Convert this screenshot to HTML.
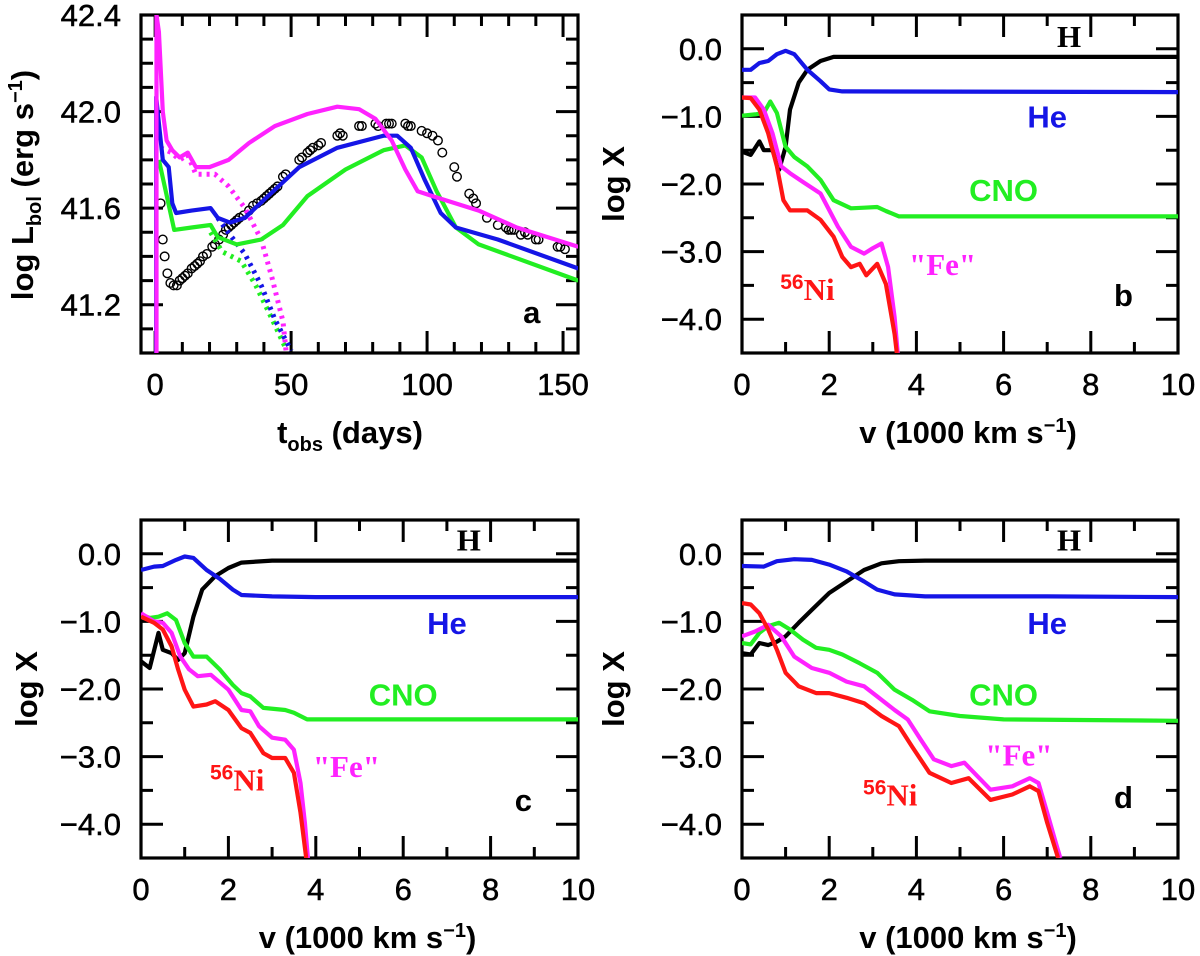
<!DOCTYPE html>
<html><head><meta charset="utf-8"><style>
html,body{margin:0;padding:0;background:#fff}
svg{display:block}
text{font-family:"Liberation Sans",sans-serif}
</style></head><body>
<svg id="fig" width="1200" height="956" viewBox="0 0 1200 956" xmlns="http://www.w3.org/2000/svg"></svg>
<script>
// ---------- Panel a data (days, log L) ----------
const aMagT=[0.5,0.5,1.4,2.8,4.2,6.3,9,12,15,20,27,34.5,44,56,67,75,81,87,92,96.5,102,119,133,155.6];
const aMagL=[41.0,42.4,42.33,42.0,41.88,41.84,41.81,41.83,41.77,41.77,41.8,41.87,41.94,41.99,42.02,42.01,41.97,41.88,41.76,41.67,41.65,41.59,41.52,41.44];
const aMagDT=[2,6,9,12,15,22,27,33,39,43,47,48.3];
const aMagDL=[41.85,41.83,41.8,41.82,41.74,41.74,41.69,41.6,41.47,41.31,41.13,40.99];
const aBluT=[0.4,0.4,1.4,2.8,5,6.3,7.7,13.4,20.4,23,27.5,33,41.5,53,67,84,89,94,99,105,110.6,126,155.6];
const aBluL=[41.0,42.06,41.95,41.8,41.77,41.62,41.58,41.59,41.6,41.56,41.54,41.56,41.65,41.77,41.85,41.9,41.9,41.85,41.72,41.58,41.52,41.47,41.35];
const aBluDT=[23,27.5,33,39,44,50];
const aBluDL=[41.56,41.49,41.41,41.28,41.14,41.01];
const aGrnT=[1.4,3.5,7,13.4,20.4,23,30,39,47,56,70,84,92,98,103.5,110.6,119,155.6];
const aGrnL=[41.8,41.69,41.51,41.52,41.53,41.48,41.45,41.47,41.53,41.65,41.76,41.84,41.86,41.81,41.67,41.52,41.45,41.3];
const aGrnDT=[20.4,24.6,31.7,37,43,48];
const aGrnDL=[41.5,41.42,41.38,41.28,41.14,41.02];
const obsT=[2,2.8,3.5,4.5,5.6,6.8,8,9,10,11,12,13.4,14.5,15.5,16.5,17.6,19,21,22,23.5,25,26,27,28,29,30,31,32.5,34.5,36,37.5,39,40,41,42,43,44,45,47,48,53,54,56,57,58,60,61,67,68,69,75,76,81,82,85,86,87,92,93,94,98,100,102,104,105.6,110,111,115.5,117,118,122,126,129,130,131,132,134.5,136,137,140,141,148,149,150.7];
const obsL=[41.62,41.47,41.4,41.33,41.29,41.28,41.28,41.3,41.31,41.32,41.33,41.35,41.36,41.37,41.38,41.4,41.41,41.44,41.45,41.47,41.49,41.51,41.52,41.53,41.54,41.55,41.56,41.57,41.59,41.61,41.62,41.63,41.64,41.65,41.66,41.67,41.68,41.69,41.73,41.74,41.8,41.81,41.83,41.84,41.85,41.86,41.87,41.9,41.91,41.9,41.94,41.94,41.95,41.94,41.95,41.95,41.95,41.95,41.94,41.94,41.92,41.91,41.9,41.88,41.83,41.77,41.73,41.66,41.64,41.62,41.56,41.53,41.52,41.51,41.51,41.51,41.49,41.5,41.49,41.47,41.47,41.44,41.44,41.43];

// ---------- Panels b, c, d data (v in 1000 km/s, log X) ----------
const bHv=[0,0.2,0.4,0.5,0.7,0.85,1.0,1.1,1.3,1.5,1.8,2.1,3,10];
const bHx=[-1.52,-1.57,-1.37,-1.5,-1.5,-1.79,-1.45,-0.9,-0.5,-0.31,-0.18,-0.12,-0.12,-0.12];
const bHev=[0,0.2,0.4,0.6,0.8,1.0,1.2,1.5,1.8,2.0,2.3,10];
const bHex=[-0.31,-0.31,-0.21,-0.18,-0.08,-0.03,-0.08,-0.31,-0.48,-0.6,-0.63,-0.64];
const bCv=[0,0.3,0.5,0.65,0.8,1.0,1.2,1.5,1.8,2.1,2.5,2.8,3.1,3.3,3.6,10];
const bCx=[-0.99,-0.97,-0.95,-0.78,-0.95,-1.45,-1.6,-1.74,-1.94,-2.24,-2.36,-2.35,-2.34,-2.4,-2.48,-2.48];
const bFv=[0,0.3,0.5,0.7,0.9,1.1,1.4,1.8,2.2,2.5,2.8,3.0,3.2,3.35,3.5,3.57];
const bFx=[-0.72,-0.72,-0.9,-1.25,-1.74,-1.84,-1.97,-2.14,-2.63,-2.93,-3.03,-2.95,-2.88,-3.23,-3.97,-4.5];
const bNv=[0,0.2,0.4,0.6,0.8,0.95,1.1,1.5,1.8,2.1,2.3,2.5,2.7,2.85,3.1,3.3,3.5,3.55];
const bNx=[-0.72,-0.73,-0.9,-1.25,-1.74,-2.24,-2.39,-2.39,-2.53,-2.78,-3.08,-3.23,-3.18,-3.35,-3.18,-3.48,-4.22,-4.5];

const cHv=[0,0.2,0.4,0.5,0.7,0.85,1.0,1.2,1.4,1.7,2.0,2.3,3,10];
const cHx=[-1.59,-1.69,-1.17,-1.42,-1.47,-1.57,-1.47,-0.93,-0.53,-0.33,-0.21,-0.13,-0.1,-0.1];
const cHev=[0,0.3,0.5,0.8,1.0,1.2,1.5,1.8,2.1,2.3,3,4,10];
const cHex=[-0.24,-0.19,-0.18,-0.09,-0.04,-0.06,-0.24,-0.37,-0.53,-0.61,-0.63,-0.64,-0.64];
const cCv=[0,0.2,0.4,0.6,0.8,1.0,1.2,1.5,1.8,2.1,2.3,2.5,2.8,3.3,3.5,3.8,10];
const cCx=[-0.9,-0.95,-0.93,-0.88,-0.98,-1.32,-1.52,-1.52,-1.71,-1.94,-2.06,-2.11,-2.28,-2.31,-2.35,-2.45,-2.45];
const cFv=[0,0.3,0.5,0.7,0.9,1.1,1.3,1.6,2.0,2.3,2.5,2.7,3.0,3.3,3.5,3.65,3.75,3.82];
const cFx=[-0.88,-1.0,-1.02,-1.17,-1.52,-1.71,-1.81,-1.79,-2.01,-2.31,-2.33,-2.55,-2.72,-2.75,-2.9,-3.39,-3.98,-4.5];
const cNv=[0,0.3,0.5,0.7,0.85,1.0,1.2,1.5,1.7,2.0,2.3,2.5,2.8,3.0,3.3,3.5,3.65,3.78];
const cNx=[-0.93,-1.02,-1.12,-1.37,-1.71,-2.01,-2.26,-2.23,-2.18,-2.31,-2.58,-2.65,-2.95,-3.02,-3.02,-3.24,-3.83,-4.5];

const dHv=[0,0.2,0.4,0.6,0.8,1.0,1.3,1.6,2.0,2.4,2.8,3.2,3.6,4.2,10];
const dHx=[-1.47,-1.49,-1.32,-1.35,-1.3,-1.22,-1.02,-0.83,-0.58,-0.41,-0.24,-0.14,-0.11,-0.1,-0.1];
const dHev=[0,0.5,0.8,1.2,1.6,2.0,2.4,2.8,3.1,3.5,4.2,7,10];
const dHex=[-0.18,-0.19,-0.11,-0.08,-0.09,-0.16,-0.26,-0.41,-0.53,-0.6,-0.63,-0.63,-0.64];
const dCv=[0,0.2,0.4,0.6,0.85,1.1,1.4,1.7,2.0,2.3,2.7,3.1,3.5,3.9,4.3,5.0,6,10];
const dCx=[-1.32,-1.34,-1.17,-1.07,-1.02,-1.12,-1.27,-1.39,-1.42,-1.49,-1.62,-1.76,-2.01,-2.16,-2.33,-2.4,-2.45,-2.47];
const dFv=[0,0.3,0.6,0.9,1.2,1.6,2.0,2.4,2.8,3.1,3.5,3.8,4.1,4.4,4.8,5.1,5.4,5.7,6.2,6.6,6.8,7.0,7.2,7.3];
const dFx=[-1.22,-1.15,-1.05,-1.22,-1.52,-1.69,-1.76,-1.89,-1.96,-2.11,-2.31,-2.45,-2.75,-3.04,-3.14,-3.09,-3.29,-3.49,-3.44,-3.32,-3.39,-3.83,-4.28,-4.5];
const dNv=[0,0.2,0.4,0.6,0.8,1.0,1.3,1.7,2.0,2.4,2.8,3.2,3.6,3.9,4.3,4.8,5.2,5.7,6.2,6.6,6.8,7.0,7.25];
const dNx=[-0.73,-0.75,-0.88,-1.12,-1.42,-1.76,-1.96,-2.06,-2.06,-2.13,-2.21,-2.4,-2.55,-2.85,-3.24,-3.39,-3.32,-3.64,-3.56,-3.44,-3.51,-3.98,-4.5];

// tick label arrays
const aXTicks=[0,50,100,150];
const aYTicks=[41.2,41.6,42.0,42.4];
const vXTicks=[0,2,4,6,8,10];
const vYTicks=[0,-1,-2,-3,-4];
const vYLabels=["0.0","\u22121.0","\u22122.0","\u22123.0","\u22124.0"];

const NS="http://www.w3.org/2000/svg";
const svg=document.getElementById('fig');
const C={mag:'#ff22ff',blu:'#1515e6',grn:'#22ee22',red:'#ff1515',blk:'#000'};
function mk(tag,attrs,parent){const e=document.createElementNS(NS,tag);for(const k in attrs)e.setAttribute(k,attrs[k]);(parent||svg).appendChild(e);return e;}

function makePanel(name,L,T,R,B,x0,x1,y0,y1){
  const g=mk('g',{});
  
  
  const sx=v=>L+(v-x0)/(x1-x0)*(R-L);
  const sy=v=>B-(v-y0)/(y1-y0)*(B-T);
  return {g,sx,sy,L,T,R,B,x0,x1,y0,y1};
}
function clipFor(p,id){
  const cp=mk('clipPath',{id:id});
  mk('rect',{x:p.L,y:p.T,width:p.R-p.L,height:p.B-p.T},cp);
}
function line(p,xs,ys,color,name,dash,clip){
  let d='';
  for(let i=0;i<xs.length;i++){d+=(i?'L':'M')+p.sx(xs[i]).toFixed(1)+','+p.sy(ys[i]).toFixed(1);}
  const e=mk('path',{d:d,fill:'none',stroke:color,'stroke-width':dash?5:4.2,'stroke-linejoin':'round','clip-path':'url(#'+clip+')'},p.g);
  if(dash){e.setAttribute('stroke-dasharray','3 5');}
  
  
}
function frame(p,xMaj,xMin,yMaj,yMin,xt,xl,yt,yl,xlabY){
  const r=mk('rect',{x:p.L,y:p.T,width:p.R-p.L,height:p.B-p.T,fill:'none',stroke:'#000','stroke-width':3.2},p.g);
  
  
  let d='';
  for(let v=Math.ceil(p.x0/xMin)*xMin;v<=p.x1+1e-9;v+=xMin){
    const big=Math.abs(v/xMaj-Math.round(v/xMaj))<1e-6;const len=big?22:11;const x=p.sx(v);
    d+='M'+x+','+p.B+'v'+(-len)+'M'+x+','+p.T+'v'+len;
  }
  for(let v=Math.ceil(p.y0/yMin-1e-9)*yMin;v<=p.y1+1e-9;v+=yMin){
    const big=Math.abs(v/yMaj-Math.round(v/yMaj))<1e-6;const len=big?22:12;const y=p.sy(v);
    d+='M'+p.L+','+y+'h'+len+'M'+p.R+','+y+'h'+(-len);
  }
  const t=mk('path',{d:d,stroke:'#000','stroke-width':3,fill:'none'},p.g);
  
  
  xt.forEach((v,i)=>{
    const e=mk('text',{x:p.sx(v),y:xlabY,'font-size':31,'text-anchor':'middle',fill:'#000','stroke':'#000','stroke-width':0.5},p.g);
    e.textContent=xl[i];
    
    
  });
  yt.forEach((v,i)=>{
    const e=mk('text',{x:p.L-20,y:p.sy(v)+11,'font-size':31,'text-anchor':'end',fill:'#000','stroke':'#000','stroke-width':0.5},p.g);
    e.textContent=yl[i];
    
    
  });
}
function label(p,x,y,txt,color,serif,name,html){
  const e=mk('text',{x:p.sx(x),y:p.sy(y)+11,'font-size':31,'text-anchor':'middle','font-weight':'bold'},p.g);
  e.setAttribute('style','fill:'+color+(serif?';font-family:"Liberation Serif",serif':''));
  if(html){e.innerHTML=html;}else{e.textContent=txt;}
  
  
}
function title(x,y,html,rot,name){
  const e=mk('text',{x:x,y:y,'font-size':31,'font-weight':'bold','text-anchor':'middle',fill:'#000'});
  if(rot)e.setAttribute('transform','rotate(-90 '+x+' '+y+')');
  e.innerHTML=html;
  
  
}

// ---- Panel a ----
const pa=makePanel('panel-a-light-curve',141,15,578,353,-5.2,155.5,41.0,42.4);
clipFor(pa,'ca');
frame(pa,50,10,0.4,0.1,aXTicks,aXTicks.map(String),aYTicks,aYTicks.map(v=>v.toFixed(1)),395);
obsT.forEach((t,i)=>{
  const c=mk('circle',{cx:pa.sx(t),cy:pa.sy(obsL[i]),r:4.3,fill:'none',stroke:'#000','stroke-width':1.4,'clip-path':'url(#ca)'},pa.g);
  
  
});
line(pa,aGrnDT,aGrnDL,C.grn,'green-model-dotted',true,'ca');
line(pa,aBluDT,aBluDL,C.blu,'blue-model-dotted',true,'ca');
line(pa,aMagDT,aMagDL,C.mag,'magenta-model-dotted',true,'ca');
line(pa,aGrnT,aGrnL,C.grn,'green-model-curve',false,'ca');
line(pa,aBluT,aBluL,C.blu,'blue-model-curve',false,'ca');
line(pa,aMagT,aMagL,C.mag,'magenta-model-curve',false,'ca');
label(pa,138.5,41.17,'a','#000',false,'panel-a-letter');
title(33,185,'log L<tspan font-size="20" dy="8">bol</tspan><tspan dy="-8"> (erg s</tspan><tspan font-size="20" dy="-11">−1</tspan><tspan dy="11">)</tspan>',true,'y-axis-title-a');
title(350,443,'t<tspan font-size="20" dy="8">obs</tspan><tspan dy="-8"> (days)</tspan>',false,'x-axis-title-a');

// ---- composition panels ----
function compPanel(name,L,T,R,B,id,d,labs,letter,letterName,tx){
  const p=makePanel(name,L,T,R,B,0,10,-4.5,0.5);
  clipFor(p,id);
  frame(p,2,1,1,0.5,vXTicks,vXTicks.map(String),vYTicks,vYLabels,B+42);
  line(p,d[0],d[1],C.blk,'hydrogen-curve',false,id);
  line(p,d[2],d[3],C.blu,'helium-curve',false,id);
  line(p,d[4],d[5],C.grn,'cno-curve',false,id);
  line(p,d[6],d[7],C.mag,'fe-curve',false,id);
  line(p,d[8],d[9],C.red,'ni56-curve',false,id);
  label(p,7.5,labs[0],'H','#000',true,'label-h');
  label(p,7.0,labs[1],'He',C.blu,false,'label-he');
  label(p,6.0,labs[2],'CNO',C.grn,false,'label-cno');
  label(p,labs[3],labs[4],'"Fe"',C.mag,true,'label-fe');
  label(p,labs[5],labs[6],'',C.red,true,'label-ni56','<tspan font-size="21" dy="-11" style="font-family:Liberation Sans,sans-serif">56</tspan><tspan dy="11">Ni</tspan>');
  label(p,8.75,labs[7],letter,'#000',false,letterName);
  const cx=(L+R)/2;
  title(tx,(T+B)/2,'log X',true,'y-axis-title-'+letter);
  title(cx+8,B+90,'v (1000  km s<tspan font-size="20" dy="-11">−1</tspan><tspan dy="11">)</tspan>',false,'x-axis-title-'+letter);
}
compPanel('panel-b-composition',742,15,1178,353,'cb',[bHv,bHx,bHev,bHex,bCv,bCx,bFv,bFx,bNv,bNx],[0.19,-1.0,-2.09,4.6,-3.18,1.5,-3.55,-3.64],'b','panel-b-letter',624);
compPanel('panel-c-composition',141,520,578,858,'cc',[cHv,cHx,cHev,cHex,cCv,cCx,cFv,cFx,cNv,cNx],[0.21,-1.02,-2.08,4.7,-3.14,2.2,-3.34,-3.64],'c','panel-c-letter',37);
compPanel('panel-d-composition',742,520,1178,858,'cd',[dHv,dHx,dHev,dHex,dCv,dCx,dFv,dFx,dNv,dNx],[0.21,-1.02,-2.08,6.35,-2.97,3.4,-3.56,-3.6],'d','panel-d-letter',624);
</script>
</body></html>
